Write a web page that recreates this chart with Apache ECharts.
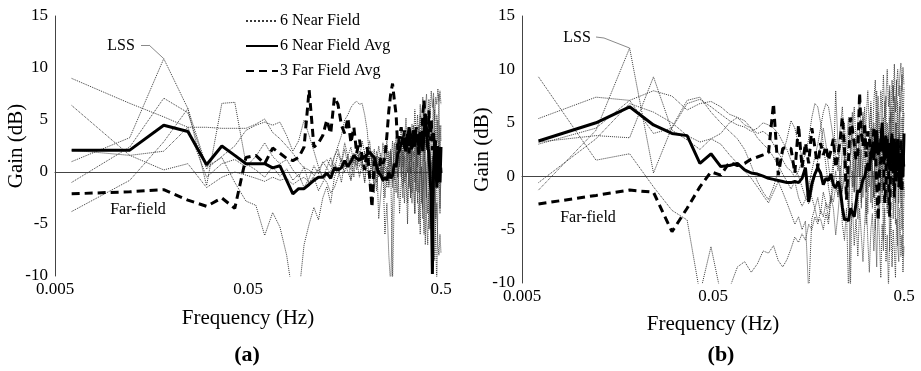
<!DOCTYPE html>
<html>
<head>
<meta charset="utf-8">
<script src="https://cdn.jsdelivr.net/npm/echarts@6/dist/echarts.min.js"></script>
<style>
  html, body { margin: 0; padding: 0; background: #fff; }
  #chart { width: 921px; height: 371px; }
</style>
</head>
<body>
<div id="chart"></div>
<script>
// Frequency bins (Hz), shared by both panels
const freq = [
  0.0061, 0.0122, 0.0183, 0.0244, 0.0305, 0.0366, 0.0427, 0.0488, 0.0549, 0.0610,
  0.0671, 0.0732, 0.0793, 0.0854, 0.0915, 0.0976, 0.1037, 0.1098, 0.1159, 0.1220,
  0.1280, 0.1341, 0.1402, 0.1463, 0.1524, 0.1585, 0.1646, 0.1707, 0.1768, 0.1829,
  0.1890, 0.1951, 0.2012, 0.2073, 0.2134, 0.2195, 0.2256, 0.2317, 0.2378, 0.2439,
  0.2500, 0.2561, 0.2622, 0.2683, 0.2744, 0.2805, 0.2866, 0.2927, 0.2988, 0.3049,
  0.3110, 0.3171, 0.3232, 0.3293, 0.3354, 0.3415, 0.3476, 0.3537, 0.3598, 0.3659,
  0.3720, 0.3780, 0.3841, 0.3902, 0.3963, 0.4024, 0.4085, 0.4146, 0.4207, 0.4268,
  0.4329, 0.4390, 0.4451, 0.4512, 0.4573, 0.4634, 0.4695, 0.4756, 0.4817, 0.4878,
  0.4939, 0.5000
];

const xTicks = [0.005, 0.05, 0.5];
const seriesNames = ['6 Near Field', '6 Near Field Avg', '3 Far Field Avg'];

// ---- Panel (a) gains, dB ----
const nearA1 = [
  9.0, 6.6, 5.3, 4.3, 4.3, 4.2, 4.2, 4.2, 4.6, 5.1,
  3.8, 3.2, 2.5, 1.8, 1.0, 0.4, 0.2, -0.3, 0.3, 0.8,
  1.2, 0.5, 1.5, 2.2, 1.0, 2.8, 1.5, 2.4, 0.8, 2.0,
  1.2, 3.0, 1.8, 0.5, 2.4, 1.0, -1.5, 0.8, 2.5, 1.2,
  -0.8, 1.8, 3.0, 0.5, 2.2, -1.0, 1.5, 3.4, 0.8, 2.6,
  4.0, 1.2, 3.0, 5.2, 2.0, 3.8, 1.0, 4.6, 2.5, 6.0,
  3.2, 5.5, 2.0, 6.5, 4.0, 7.2, 3.5, 6.0, 7.5, 4.5,
  7.0, 5.5, 7.8, 6.2, 7.6, 5.0, 7.2, 6.5, 8.0, 6.8,
  7.8, 6.5
];
const nearA2 = [
  6.4, 1.6, 0.2, 0.8, -1.5, -0.5, 0.0, -0.3, -0.6, -0.9,
  -0.5, -0.8, -0.6, -1.2, -0.8, -0.5, -1.0, -0.4, 0.2, -0.5,
  0.4, -0.2, 0.8, 0.3, 1.2, 0.5, 1.6, 0.2, 1.8, 0.6,
  2.0, 1.0, 0.4, 2.4, 1.2, -0.5, 1.5, -1.8, 0.8, -0.5,
  1.4, -2.5, 0.5, -1.2, 2.0, 0.0, 2.8, 1.0, 3.5, 0.5,
  2.2, -1.5, 1.8, 3.2, 0.0, 2.6, -2.0, 1.5, 4.0, 0.8,
  -1.8, 2.5, 4.5, 1.0, -3.0, 2.0, 5.0, 0.5, -2.5, 3.0,
  6.0, 1.5, -1.0, 4.0, 7.0, 2.0, -0.5, 5.5, 3.0, 7.5,
  1.0, 4.5
];
const nearA3 = [
  1.0, 3.3, 10.9, 6.1, -1.3, 6.6, 6.7, 0.8, 0.2, -0.5,
  0.5, -0.4, 0.3, -0.8, -0.2, -1.5, -0.6, 0.6, -0.2, 1.0,
  0.4, 1.4, 0.2, 1.8, 0.8, 2.2, 0.6, 1.5, -0.5, 2.5,
  0.5, 1.2, -1.0, 2.0, 3.0, 0.8, -2.0, 1.5, -4.5, -2.0,
  0.5, -6.0, -3.0, -8.0, -11.0, -3.5, 0.5, -2.0, 1.5, -4.0,
  -1.0, 2.0, -3.0, 0.0, -5.0, 1.0, -2.5, 3.0, -1.5, -4.0,
  1.5, -3.0, 2.5, -6.0, 0.5, -4.5, 3.0, -7.0, -1.0, 2.0,
  -5.5, -2.0, 1.0, -8.0, -3.0, 0.5, -6.5, -11.0, -2.5, 1.0,
  -4.0, 0.5
];
const nearA4 = [
  -1.0, 2.4, 7.1, 5.7, 0.3, 1.5, 2.5, 4.0, 4.5, 4.8,
  4.5, 4.8, 3.5, 2.0, 3.0, 5.0, 3.5, 2.0, 0.5, -0.5,
  -1.0, -2.0, -1.5, -0.5, 0.8, 0.0, 1.5, -0.8, 0.5, 1.2,
  -0.5, 0.8, 2.0, 0.2, -1.0, 0.8, 2.2, -1.0, 1.5, 0.0,
  2.8, 1.0, -1.5, 2.0, 0.5, 3.0, -0.8, 2.0, -2.5, 1.5,
  -0.5, 3.5, -1.0, 2.0, -3.0, 0.5, 3.0, -2.0, 1.0, -4.0,
  2.5, -1.5, -5.0, 0.5, 3.5, -3.0, -6.0, 1.0, -4.5, -7.0,
  -2.0, -5.5, -3.0, -7.5, -4.0, -8.5, -5.0, -3.0, -7.0, -8.0,
  -6.0, -7.8
];
const nearA5 = [
  -3.8, -0.8, 2.9, 6.1, 0.5, 1.4, -1.0, -2.8, -3.2, -6.1,
  -3.9, -5.3, -8.0, -12.0, -12.0, -7.0, -5.0, -3.4, -4.6, -2.5,
  -1.4, -3.0, -0.5, 0.5, -1.0, 1.0, 0.0, -0.8, 1.5, 0.2,
  1.8, 0.5, -1.0, 1.2, -0.5, 1.5, 0.0, 2.0, 0.8, 1.8,
  -0.5, 2.5, 1.0, -1.5, 0.5, -10.5, -2.0, 1.0, -0.5, 2.0,
  0.5, -2.5, 1.5, -0.5, 2.5, -1.5, 0.5, -3.0, 2.0, -1.0,
  3.5, 0.0, -2.0, 2.5, -0.5, -3.5, 1.0, 3.0, -1.5, -4.0,
  2.0, 0.0, -3.5, 1.5, -2.0, 4.0, -4.5, 0.5, -1.5, 3.0,
  -3.5, 0.0
];
const nearA6 = [
  2.1, 1.6, 2.0, 4.3, -0.5, 0.8, 1.2, 0.5, 1.5, 2.8,
  1.5, 0.8, 1.2, 0.2, -0.5, 0.5, -1.2, -0.5, -1.8, -1.0,
  -0.2, 0.0, 1.5, 2.5, 3.5, 5.0, 5.5, 6.2, 6.6, 6.8,
  6.5, 6.6, 5.5, 4.0, 1.1, 2.0, 0.8, 1.5, -0.5, 0.5,
  -1.0, 0.8, 2.0, 0.0, 1.5, -1.5, 0.5, 2.5, -0.5, 1.0,
  3.0, 0.5, 2.0, 4.0, 1.0, 3.5, 0.0, 2.5, 4.5, 1.5,
  3.0, 0.5, 4.0, 5.5, 2.0, 4.5, 1.0, 3.0, 5.5, 2.5,
  4.0, 0.5, 3.5, 5.0, 2.0, 6.0, 3.5, 1.5, 5.0, 2.5,
  4.5, 3.0
];
const avgA = [
  2.1, 2.1, 4.5, 3.9, 0.7, 2.5, 1.6, 0.8, 0.8, 0.8,
  0.4, 0.6, -0.8, -2.1, -1.6, -1.6, -1.2, -0.8, -0.5, -0.5,
  -0.1, -0.6, 0.4, 0.2, 0.4, 1.1, 0.5, 1.0, 1.6, 1.3,
  1.1, 1.5, 1.4, 1.7, 1.9, 1.6, 1.4, 0.6, -0.1, -0.3,
  -0.8, -0.5, -0.8, 0.0, -0.6, -0.3, 0.8, 0.5, 1.8, 2.1,
  2.8, 3.1, 2.4, 2.0, 3.0, 4.3, 3.6, 3.4, 2.8, 4.0,
  3.5, 3.1, 2.4, 3.7, 3.0, 2.0, 3.5, 5.6, 4.2, 2.5,
  1.8, -0.5, -2.7, -9.8, 0.0, 3.1, 1.0, -1.5, 2.4, 0.5,
  -1.0, 2.4
];
const farA = [
  -2.1, -1.9, -1.7, -2.7, -3.3, -2.5, -3.5, 1.4, 1.6, 0.8,
  2.3, 1.8, 1.3, 1.1, 1.4, 2.4, 7.9, 2.4, 2.8, 3.5,
  5.0, 3.7, 7.2, 6.5, 4.5, 3.7, 5.2, 2.8, 4.3, 1.8,
  3.1, 1.5, 0.2, 2.4, -0.5, -3.4, 1.1, 0.5, -0.1, 1.4,
  0.8, 1.4, 3.5, 5.9, 7.5, 8.5, 6.9, 5.5, 2.1, 3.5,
  4.3, 2.8, 4.0, 2.5, 3.7, 1.8, 3.5, 2.0, 4.0, 2.2,
  4.3, 3.2, 1.5, 4.0, 2.8, 5.5, 6.9, 4.5, 3.7, 2.0,
  5.9, 3.0, 5.0, 2.1, 4.0, 1.8, 3.0, 0.5, 2.5, -0.5,
  1.5, -0.1
];

// ---- Panel (b) gains, dB ----
const nearB1 = [
  9.3, 1.5, 2.1, -1.0, -3.2, -4.1, -11.0, -6.6, -11.0, -10.5,
  -8.5, -8.0, -9.0, -8.2, -7.0, -7.2, -6.5, -7.9, -8.5, -7.8,
  -6.8, -5.7, -6.2, -5.4, -6.0, -4.5, -5.0, -3.8, -4.5, -3.2,
  -3.8, -2.5, -3.0, -1.8, -2.4, -1.0, -1.8, -0.5, -1.2, -0.1,
  -2.0, 1.0, -10.5, 0.5, -1.5, 2.0, -4.0, 0.0, 2.5, -2.0,
  1.0, -4.5, 1.5, -1.0, 3.0, -3.0, 0.5, -5.0, 2.0, -1.5,
  3.5, -2.5, 1.0, -6.0, 0.0, 2.5, -3.5, 1.5, -7.0, -1.0,
  2.0, -4.0, 0.5, -2.5, 3.0, -6.5, -1.0, 1.5, -3.0, 0.0,
  -7.5, -1.0
];
const nearB2 = [
  -1.3, 4.3, 12.0, 0.3, 4.6, 7.1, 7.4, 6.0, 5.0, 4.2,
  3.5, 2.5, 1.0, -0.5, -1.5, -2.2, -1.0, 0.5, 2.0, 3.5,
  5.2, 4.5, 3.0, 1.8, 0.5, -0.8, -2.0, -3.0, -4.2, -4.0,
  -5.0, -3.5, -4.5, -2.0, 0.5, 8.0, 3.0, -1.0, 2.5, 5.0,
  1.0, -3.0, 2.0, 6.0, -1.5, 3.5, 0.0, 4.5, -2.5, 2.0,
  6.5, 1.0, -3.5, 3.0, 7.0, 0.5, -2.0, 4.0, 8.0, 1.5,
  -4.0, 3.5, 6.0, -1.0, 2.0, 7.5, -3.0, 1.0, 5.5, -2.0,
  3.0, 8.5, 0.0, -4.5, 5.0, 2.0, -2.5, 6.5, 0.5, -5.0,
  3.5, -2.0
];
const nearB3 = [
  5.4, 7.4, 7.1, 8.0, 7.5, 6.2, 6.8, 7.0, 6.5, 5.8,
  5.5, 4.8, 4.5, 3.6, 3.0, 2.5, 1.8, 1.0, 0.2, -0.5,
  -1.2, -0.5, -2.0, -2.8, -2.2, -1.0, 0.5, 1.8, 3.0, 4.5,
  6.0, 6.8, 6.5, 5.0, 3.5, 2.0, 0.5, 2.5, 4.0, 1.5,
  3.0, 5.5, 2.0, 4.0, 6.5, 3.0, 5.0, 7.5, 4.0, 6.0,
  2.5, 5.5, 8.0, 4.5, 6.5, 3.0, 7.0, 9.0, 5.0, 7.5,
  4.0, 8.0, 6.0, 9.5, 5.5, 7.5, 10.0, 6.5, 8.5, 5.0,
  9.0, 7.0, 10.5, 6.0, 8.5, 10.0, 7.5, 9.5, 10.6, 8.0,
  10.2, 8.5
];
const nearB4 = [
  3.2, 3.8, 3.6, 9.3, 4.3, 3.4, 2.5, 3.5, 4.0, 5.0,
  5.5, 5.2, 4.5, 4.0, 4.2, 3.8, 3.0, 2.2, 1.5, 0.8,
  0.5, -0.1, 0.5, 1.5, 2.0, 3.5, 5.5, 6.8, 6.5, 5.0,
  3.0, 1.0, -1.0, -2.5, -1.0, 0.5, -2.0, 1.0, -1.5, 2.0,
  0.0, -3.5, 1.5, -1.0, 3.0, -2.0, 0.5, 2.5, -3.0, 1.0,
  3.5, -1.5, 0.0, 4.0, -2.5, 2.0, 5.0, -1.0, 3.0, 6.0,
  0.5, 4.5, -1.5, 2.5, 7.0, 1.0, 5.0, 3.0, 8.0, 2.0,
  6.5, 4.0, 7.5, 1.5, 9.0, 5.5, 3.0, 8.5, 6.0, 9.5,
  4.0, 8.3
];
const nearB5 = [
  -0.6, 3.5, 6.8, 6.0, 5.0, 3.8, 3.2, 3.5, 3.0, 2.0,
  1.2, 0.5, -0.2, -1.0, -1.8, -2.5, -1.5, -0.5, -1.5, -2.5,
  -3.5, -4.5, -3.8, -5.0, -4.2, -11.0, -4.0, -3.0, -2.0, -3.5,
  -1.5, -2.5, -4.0, -2.0, -3.0, -5.5, -3.5, -1.0, -4.5, -6.0,
  -3.0, -10.8, -5.0, -2.5, -6.5, -4.0, -7.5, -3.0, -5.5, -8.0,
  -4.5, -2.0, -6.0, -9.0, -5.0, -3.5, -7.0, -4.0, -8.5, -2.5,
  -6.0, -9.5, -4.5, -7.0, -3.0, -8.0, -5.5, -10.5, -6.0, -3.5,
  -8.5, -5.0, -7.0, -9.5, -4.0, -6.5, -8.0, -3.0, -7.5, -5.5,
  -9.0, -6.5
];
const nearB6 = [
  3.0, 4.5, 7.1, 4.0, 4.5, 6.8, 7.2, 6.5, 5.8, 5.2,
  4.8, 4.6, 4.2, 4.5, 5.0, 4.8, 4.5, 4.0, 3.2, 2.5,
  1.5, 0.8, 0.0, -1.0, -2.0, -2.6, -1.5, 0.0, 1.5, 3.0,
  4.5, 3.0, 1.0, -0.5, 1.5, 3.5, 2.0, 4.5, 6.5, 3.0,
  0.5, 3.5, 5.5, 1.5, -1.0, 2.5, 4.0, 0.0, 3.5, 5.5,
  2.0, -1.5, 3.0, 1.0, 4.5, 0.5, -2.0, 2.5, 5.0, 1.0,
  3.5, -1.0, 2.0, 5.5, 0.0, 3.0, -2.5, 4.0, 1.5, 6.0,
  0.5, 3.5, -1.5, 5.0, 2.0, 7.0, 1.0, 4.0, -2.0, 5.5,
  2.5, 6.0
];
const avgB = [
  3.3, 5.0, 6.5, 4.8, 4.0, 3.8, 1.2, 2.1, 0.9, 1.0,
  1.2, 0.6, 0.3, 0.2, 0.0, -0.2, -0.3, -0.4, -0.5, -0.6,
  -0.6, -0.5, -0.6, -0.2, 0.8, -2.4, -0.7, 0.2, 0.8, 0.3,
  -0.8, -0.2, -0.4, 0.2, -0.8, -1.1, -0.5, -1.2, -2.9, -4.1,
  -4.0, -4.2, -3.0, -2.9, -3.8, -2.5, -1.3, -1.5, -1.0, -0.3,
  -0.1, 0.6, 1.2, 0.5, 2.0, 2.7, 1.5, 3.5, 4.3, 2.0,
  2.1, 3.2, 5.0, 2.5, 1.5, 3.8, 2.0, 3.1, 0.6, 2.5,
  4.0, 1.0, 3.5, -0.5, 2.0, 3.5, 0.5, 1.8, -1.2, 2.5,
  0.0, 4.0
];
const farB = [
  -2.6, -1.8, -1.3, -1.5, -5.2, -3.0, -1.0, 0.4, 0.1, 1.3,
  1.0, 1.2, 1.6, 1.8, 2.0, 2.2, 6.8, 0.1, 2.6, 2.7,
  2.6, 0.3, 4.8, 0.8, 3.1, 1.2, 4.5, 2.7, 0.8, 3.1,
  2.0, 2.8, 1.5, 2.4, 3.5, 0.8, 2.0, 3.4, 5.5, 2.6,
  -2.2, 1.5, 5.5, 4.5, 3.0, 1.5, 2.1, 7.8, 4.0, 2.8,
  5.0, 1.8, 4.2, 3.6, 2.0, 1.8, 4.5, 3.8, -1.0, -4.1,
  0.5, 1.5, 4.5, 2.0, -2.5, -0.5, 3.5, 1.0, -3.8, 2.0,
  3.8, 0.5, -2.0, 2.5, 0.0, 3.0, -1.0, 1.5, 3.5, -1.5,
  2.0, 0.5
];

const SERIF = '"Liberation Serif", "Times New Roman", serif';
const pairs = vals => freq.map((f, i) => [f, vals[i]]);

// Line series carry no point symbols; a zero-opacity item style also keeps
// the legend swatch down to the bare line sample.
function lineSeries(name, vals, idx, lineStyle, z) {
  return {
    name: name, type: 'line', xAxisIndex: idx, yAxisIndex: idx,
    data: pairs(vals), symbol: 'none', silent: true, z: z,
    itemStyle: { color: lineStyle.color, opacity: 0 },
    lineStyle: lineStyle
  };
}
const nearSeries = (vals, idx) =>
  lineSeries(seriesNames[0], vals, idx, { color: '#3a3a3a', width: 1, type: 'dotted' }, 2);
const avgSeries = (vals, idx) =>
  lineSeries(seriesNames[1], vals, idx, { color: '#000', width: 3 }, 4);
const farSeries = (vals, idx) =>
  lineSeries(seriesNames[2], vals, idx, { color: '#000', width: 3, type: [8, 5] }, 3);

// LSS record: a near-field series whose peak carries a thin leader line
// running out to the "LSS" caption (stub + diagonal).
function lssSeries(vals, idx, stubStart, stubEnd) {
  const s = nearSeries(vals, idx);
  s.markLine = {
    silent: true, symbol: ['none', 'none'], animation: false,
    label: { show: false },
    lineStyle: { color: '#8a8a8a', width: 1, type: 'solid' },
    emphasis: { disabled: true },
    data: [
      [{ x: stubStart[0], y: stubStart[1] }, { x: stubEnd[0], y: stubEnd[1] }],
      [{ x: stubEnd[0], y: stubEnd[1] }, { coord: [freq[2], vals[2]] }]
    ]
  };
  return s;
}

function xAxisFor(idx, gap) {
  return {
    type: 'log', logBase: 10, gridIndex: idx, min: 0.005, max: 0.5,
    axisLine: { lineStyle: { color: '#444', width: 1 } },
    axisTick: { show: false }, minorTick: { show: false },
    splitLine: { show: false }, minorSplitLine: { show: false },
    axisLabel: {
      customValues: xTicks, margin: 5,
      formatter: v => String(+(+v).toPrecision(3)),
      fontFamily: SERIF, fontSize: 17, color: '#000'
    },
    name: 'Frequency (Hz)', nameLocation: 'middle', nameGap: gap,
    nameTextStyle: { fontFamily: SERIF, fontSize: 21, color: '#000' }
  };
}
function yAxisFor(idx, gap) {
  return {
    type: 'value', gridIndex: idx, min: -10, max: 15, interval: 5,
    axisLine: { show: true, lineStyle: { color: '#444', width: 1 } },
    axisTick: { show: false }, splitLine: { show: false },
    axisLabel: { margin: 7, fontFamily: SERIF, fontSize: 17, color: '#000' },
    name: 'Gain (dB)', nameLocation: 'middle', nameGap: gap, nameRotate: 90,
    nameMoveOverlap: false,
    nameTextStyle: { fontFamily: SERIF, fontSize: 21, color: '#000' }
  };
}

const textStyle = (txt, x, y, font) => ({
  type: 'text', x: x, y: y, silent: true,
  style: { text: txt, font: font, fill: '#000', textAlign: 'center', textVerticalAlign: 'middle' }
});

const chart = echarts.init(document.getElementById('chart'), null, { renderer: 'canvas' });
chart.setOption({
  animation: false,
  backgroundColor: '#fff',
  grid: [
    { left: 55, right: 480, top: 16, bottom: 95 },
    { left: 522, right: 17, top: 16, bottom: 88 }
  ],
  xAxis: [xAxisFor(0, 32), xAxisFor(1, 31)],
  yAxis: [yAxisFor(0, 28), yAxisFor(1, 29)],
  legend: {
    data: seriesNames, orient: 'vertical', left: 240, top: 8,
    itemWidth: 32, itemHeight: 16, itemGap: 9,
    itemStyle: { opacity: 0 },
    textStyle: { fontFamily: SERIF, fontSize: 16, color: '#000', padding: [0, 0, 0, -3] },
    selectedMode: false
  },
  graphic: [
    textStyle('LSS', 121, 46, '16px ' + SERIF),
    textStyle('LSS', 577, 38, '16px ' + SERIF),
    textStyle('Far-field', 138, 210, '16px ' + SERIF),
    textStyle('Far-field', 588, 218, '16px ' + SERIF),
    textStyle('(a)', 247, 355, 'bold 22px ' + SERIF),
    textStyle('(b)', 721, 355, 'bold 22px ' + SERIF)
  ],
  series: [
    nearSeries(nearA1, 0), nearSeries(nearA2, 0), lssSeries(nearA3, 0, [141, 45], [149, 45]),
    nearSeries(nearA4, 0), nearSeries(nearA5, 0), nearSeries(nearA6, 0),
    farSeries(farA, 0), avgSeries(avgA, 0),
    nearSeries(nearB1, 1), lssSeries(nearB2, 1, [596, 37], [604, 38]), nearSeries(nearB3, 1),
    nearSeries(nearB4, 1), nearSeries(nearB5, 1), nearSeries(nearB6, 1),
    farSeries(farB, 1), avgSeries(avgB, 1)
  ]
});
</script>
</body>
</html>
